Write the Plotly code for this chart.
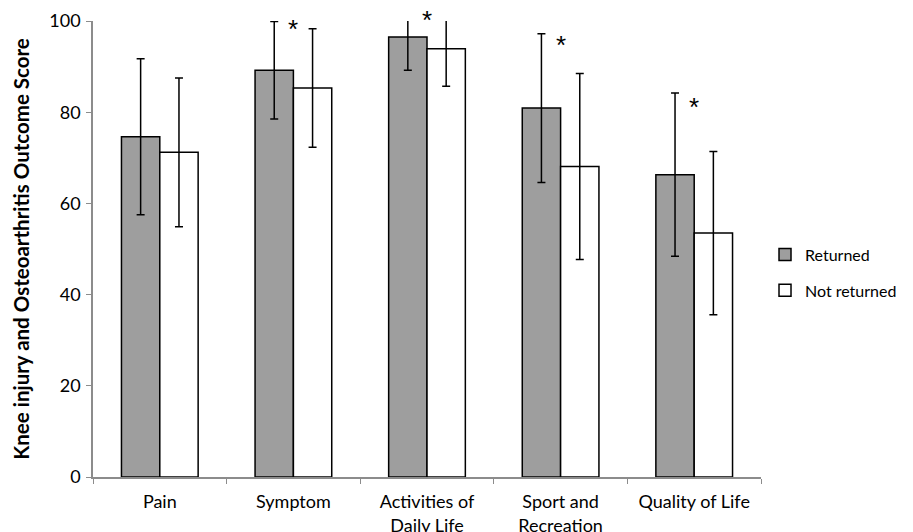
import plotly.graph_objects as go

categories = ["Pain", "Symptom", "Activities of<br>Daily Life", "Sport and<br>Recreation", "Quality of Life"]
returned = [74.6, 89.2, 96.5, 80.9, 66.3]
returned_err = [17.1, 10.7, 7.3, 16.3, 17.9]
not_returned = [71.2, 85.3, 93.9, 68.1, 53.5]
not_returned_err = [16.3, 13.0, 8.2, 20.4, 17.9]
star_categories = ["Symptom", "Activities of<br>Daily Life", "Sport and<br>Recreation", "Quality of Life"]
star_y = [99.0, 100.8, 95.3, 81.9]
y_range = [0, 100]

FONT = "Lato, Carlito, Open Sans, sans-serif"

fig = go.Figure()
fig.add_trace(go.Bar(
    x=categories, y=returned, name="Returned",
    marker=dict(color="#9e9e9e", line=dict(color="black", width=1.5)),
    error_y=dict(type="data", array=returned_err, visible=True, color="black", thickness=1.5, width=4),
    legendgroup="a",
))
fig.add_trace(go.Bar(
    x=categories, y=not_returned, name="Not returned",
    marker=dict(color="white", line=dict(color="black", width=1.5)),
    error_y=dict(type="data", array=not_returned_err, visible=True, color="black", thickness=1.5, width=4),
    legendgroup="b",
))

for c, y in zip(star_categories, star_y):
    fig.add_annotation(x=c, xref="x", y=(y - y_range[0]) / (y_range[1] - y_range[0]), yref="paper",
                       text="*", showarrow=False, yanchor="middle", yshift=-3,
                       font=dict(family="Liberation Sans", size=26, color="black"))

# page body has an 8px margin, so margins are shifted accordingly
fig.update_layout(
    width=940, height=524,
    margin=dict(l=85, r=187, t=13, b=55, pad=0),
    plot_bgcolor="white", paper_bgcolor="white",
    barmode="group", bargap=0.426, bargroupgap=0,
    font=dict(family=FONT, size=18, color="black"),
    legend=dict(x=1.006, y=0.525, xanchor="left", yanchor="top", traceorder="grouped",
                tracegroupgap=12, font=dict(size=16, family=FONT)),
    xaxis=dict(showline=True, linecolor="#8c8c8c", linewidth=1.5, ticks="outside", automargin=False,
               tickson="boundaries", ticklen=5, tickcolor="#8c8c8c", tickfont=dict(size=18),
               ticklabelstandoff=8),
    yaxis=dict(range=y_range, dtick=20, showline=True, linecolor="#8c8c8c", linewidth=1.5, automargin=False,
               ticks="outside", ticklen=5, tickcolor="#8c8c8c", showgrid=False, zeroline=False,
               tickfont=dict(size=18), ticklabelstandoff=2,
               title=dict(text="<b>Knee injury and Osteoarthritis Outcome Score</b>", font=dict(size=20.5), standoff=14)),
)

fig.write_html("out.html")
